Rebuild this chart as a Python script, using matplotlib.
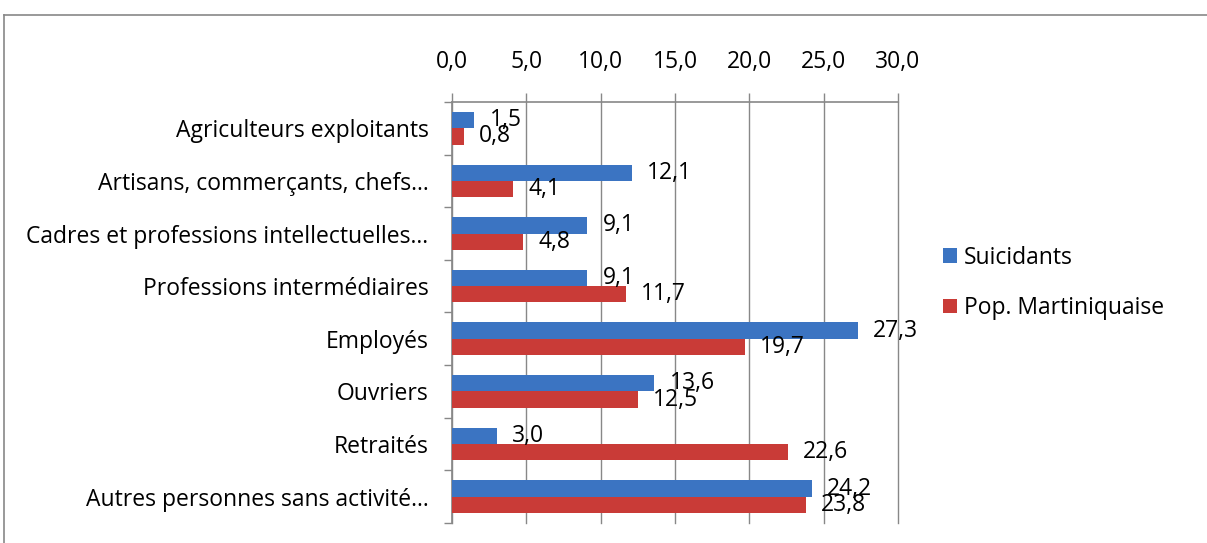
import matplotlib.pyplot as plt
import numpy as np
from matplotlib.lines import Line2D

categories = ["Agriculteurs exploitants", "Artisans, commerçants, chefs…",
              "Cadres et professions intellectuelles…", "Professions intermédiaires",
              "Employés", "Ouvriers", "Retraités", "Autres personnes sans activité…"]
suicidants = [1.5, 12.1, 9.1, 9.1, 27.3, 13.6, 3.0, 24.2]
pop_martinique = [0.8, 4.1, 4.8, 11.7, 19.7, 12.5, 22.6, 23.8]
xticks = [0, 5, 10, 15, 20, 25, 30]

plt.rcParams['font.family'] = ['Open Sans', 'DejaVu Sans']
fs = 16.5

fig = plt.figure(figsize=(12.07, 5.43), dpi=100)
ax = fig.add_axes([0.3745, 0.0368, 0.3695, 0.7754])

y = np.arange(len(categories))
h = 0.31
blue = "#3B74C2"
red = "#C93B37"
b1 = ax.barh(y - h/2, suicidants, height=h, color=blue, label="Suicidants", zorder=3)
b2 = ax.barh(y + h/2, pop_martinique, height=h, color=red, label="Pop. Martiniquaise", zorder=3)

for bars, vals in ((b1, suicidants), (b2, pop_martinique)):
    for bar, v in zip(bars, vals):
        ax.annotate(f"{v:.1f}".replace(".", ","),
                    (bar.get_width(), bar.get_y() + bar.get_height()/2),
                    xytext=(11, 0), textcoords="offset points",
                    ha="left", va="center", fontsize=fs, zorder=4)

ax.set_xlim(0, 30)
ax.set_ylim(len(categories) - 0.5, -0.5)
ax.set_xticks(xticks)
ax.set_xticklabels([f"{t:.1f}".replace(".", ",") for t in xticks], fontsize=fs)
ax.xaxis.tick_top()
ax.tick_params(axis="x", direction="out", length=6.5, width=1, color="#888888", pad=14)
ax.grid(axis="x", color="#888888", linewidth=1, zorder=0)
for gl in ax.get_xgridlines():
    gl.set_clip_on(False)

ax.set_yticks(np.arange(len(categories) + 1) - 0.5)
ax.set_yticklabels([])
ax.set_yticks(y, minor=True)
ax.set_yticklabels(categories, minor=True, fontsize=fs)
ax.tick_params(axis="y", which="major", direction="out", length=6, width=1, color="#888888")
ax.tick_params(axis="y", which="minor", length=0, pad=17)

for s in ("right", "bottom"):
    ax.spines[s].set_visible(False)
for s in ("left", "top"):
    ax.spines[s].set_color("#888888")
    ax.spines[s].set_linewidth(1.2)

ax.legend(loc="center left", bbox_to_anchor=(1.055, 0.57), frameon=False,
          fontsize=fs, handlelength=0.6, handleheight=0.6, handletextpad=0.3,
          labelspacing=1.15)

fig.add_artist(Line2D([0.003, 1.0], [0.972, 0.972], color="#888888", lw=1.2))
fig.add_artist(Line2D([0.003, 0.003], [0.0, 0.972], color="#888888", lw=1.2))

fig.savefig("out.png", dpi=100)
